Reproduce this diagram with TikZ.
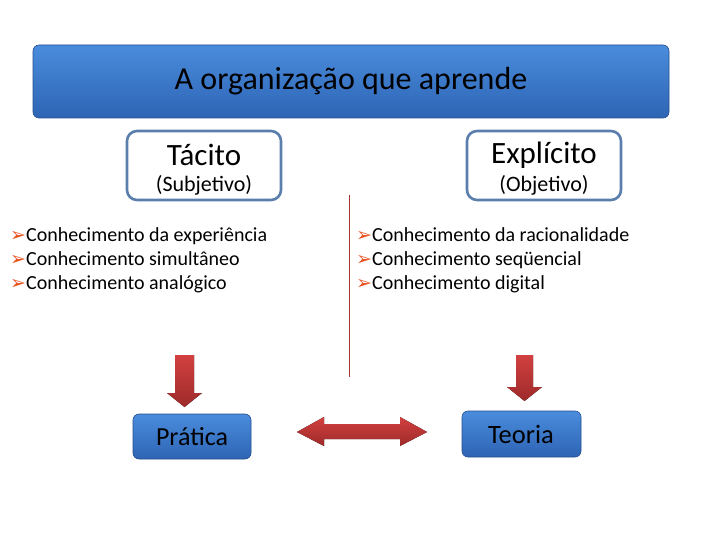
\documentclass[tikz,border=0pt]{standalone}
\usepackage{fontspec}
\setmainfont{Carlito}
\newfontfamily\dv{DejaVu Sans}
\definecolor{bluetop}{HTML}{4A8CDC}
\definecolor{bluebot}{HTML}{2E64B4}
\definecolor{edgeb}{HTML}{5B7FAD}
\definecolor{redtop}{HTML}{D24040}
\definecolor{redbot}{HTML}{9E2A2A}
\definecolor{bul}{HTML}{E8501C}
\tikzset{
 bluebox/.style={rounded corners=6pt,top color=bluetop,bottom color=bluebot,draw=bluebot!80!black,line width=0.6pt},
 whitebox/.style={rounded corners=10pt,fill=white,draw=edgeb,line width=2.6pt},
 redarrow/.style={top color=redtop,bottom color=redbot,draw=none},
 itemtxt/.style={anchor=base west,font=\fontsize{20}{22}\selectfont,inner sep=0pt},
}
\newcommand{\bu}{{\dv\fontsize{19}{20}\selectfont\color{bul}➢}}
\begin{document}
\begin{tikzpicture}[x=1pt,y=-1pt]
\useasboundingbox (0,0) rectangle (720,540);
\fill[white] (0,0) rectangle (720,540);
% title
\draw[bluebox] (33,45) rectangle (669,118);
\node (title) at (351,81) {\fontsize{32}{34}\selectfont A organização que aprende};
% top boxes
\draw[whitebox] (127,131) rectangle (281,200);
\node (tac) at (204,155) {\fontsize{31}{33}\selectfont Tácito};
\node (sub) at (204,185) {\fontsize{22}{24}\selectfont (Subjetivo)};
\draw[whitebox] (467,131) rectangle (621,200);
\node (exp) at (544,155) {\fontsize{31}{33}\selectfont Explícito};
\node (obj) at (544,185) {\fontsize{22}{24}\selectfont (Objetivo)};
% divider
\draw[color=redtop!80!black,line width=0.8pt] (349,195) -- (349,377);
% lists
\node[itemtxt] (l1) at (10,241) {\bu Conhecimento da experiência};
\node[itemtxt] (l2) at (10,265) {\bu Conhecimento simultâneo};
\node[itemtxt] (l3) at (10,289) {\bu Conhecimento analógico};
\node[itemtxt] (r1) at (356,241) {\bu Conhecimento da racionalidade};
\node[itemtxt] (r2) at (356,265) {\bu Conhecimento seqüencial};
\node[itemtxt] (r3) at (356,289) {\bu Conhecimento digital};
% down arrows
\fill[redarrow] (175,355) -- (194,355) -- (194,393) -- (202,393) -- (184.5,407) -- (167,393) -- (175,393) -- cycle;
\fill[redarrow] (516,355) -- (533,355) -- (533,387) -- (542,387) -- (524.5,401) -- (507,387) -- (516,387) -- cycle;
% double arrow
\fill[redarrow] (297,432) -- (324,417) -- (324,424) -- (400,424) -- (400,417) -- (427,432) -- (400,446) -- (400,439) -- (324,439) -- (324,446) -- cycle;
% bottom boxes
\draw[bluebox] (133,414) rectangle (251,459);
\node (pra) at (192,437) {\fontsize{26}{28}\selectfont Prática};
\draw[bluebox] (462,411) rectangle (581,457);
\node (teo) at (521,434) {\fontsize{26.5}{28}\selectfont Teoria};
\end{tikzpicture}
\end{document}
